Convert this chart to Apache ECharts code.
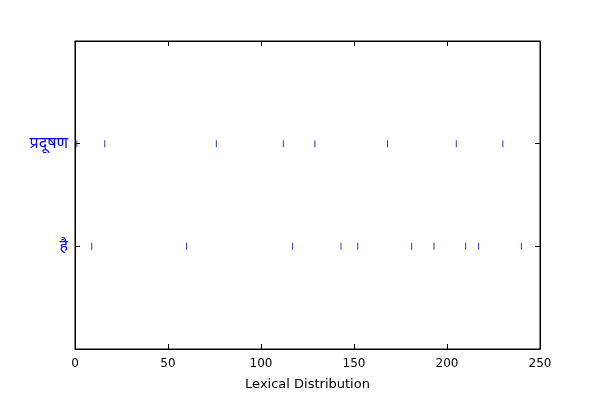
<!DOCTYPE html>
<html>
<head>
<meta charset="utf-8">
<script src="https://cdn.jsdelivr.net/npm/echarts@6/dist/echarts.min.js"></script>
<style>html,body{margin:0;padding:0;background:#fff}#c{width:600px;height:400px}</style>
</head>
<body>
<div id="c"></div>
<script>
// Words (y rows, bottom to top) and offsets of each occurrence
var words = ["है", "प्रदूषण"];
var offsetsHai = [9, 60, 117, 143, 152, 181, 193, 210, 217, 240];
var offsetsPradushan = [1, 16, 76, 112, 129, 168, 205, 230];
var xTicks = [0, 50, 100, 150, 200, 250];
var xLabel = "Lexical Distribution";

var pts = [];
offsetsHai.forEach(function (v) { pts.push([v, 0]); });
offsetsPradushan.forEach(function (v) { pts.push([v, 1]); });

var font = "'DejaVu Sans', sans-serif";
var chart = echarts.init(document.getElementById('c'), null, {renderer: 'canvas'});
chart.setOption({
  animation: false,
  backgroundColor: '#fff',
  grid: {left: 75, right: 60, top: 41, bottom: 51, show: true, borderColor: '#000', borderWidth: 1},
  xAxis: [{
    type: 'value', min: xTicks[0], max: xTicks[xTicks.length - 1], interval: 50,
    name: xLabel, nameLocation: 'middle', nameGap: 29,
    nameTextStyle: {color: '#000', fontSize: 13, fontFamily: font},
    axisLine: {show: true, onZero: false, lineStyle: {color: '#000'}},
    axisTick: {show: true, inside: true, length: 5, lineStyle: {color: '#000'}},
    axisLabel: {color: '#000', fontSize: 12, fontFamily: font, margin: 9},
    splitLine: {show: false}
  }, {
    type: 'value', position: 'top', min: 0, max: 250, interval: 50,
    axisLine: {show: true, onZero: false, lineStyle: {color: '#000'}},
    axisTick: {show: true, inside: true, length: 5, lineStyle: {color: '#000'}},
    axisLabel: {show: false}, splitLine: {show: false}
  }],
  yAxis: [{
    type: 'value', min: -1, max: 2, interval: 1,
    axisLine: {show: true, onZero: false, lineStyle: {color: '#000'}},
    axisTick: {show: true, inside: true, length: 5, lineStyle: {color: '#000'}},
    axisLabel: {color: '#0000ff', fontSize: 16, fontFamily: "'Noto Sans', 'DejaVu Sans', sans-serif", margin: 7,
      formatter: function (v) { return (v === 0 || v === 1) ? words[v] : ''; }},
    splitLine: {show: false}
  }, {
    type: 'value', position: 'right', min: -1, max: 2, interval: 1,
    axisLine: {show: true, onZero: false, lineStyle: {color: '#000'}},
    axisTick: {show: true, inside: true, length: 5, lineStyle: {color: '#000'}},
    axisLabel: {show: false}, splitLine: {show: false}
  }],
  series: [{
    type: 'scatter',
    data: pts,
    symbol: 'rect',
    symbolSize: [1, 7],
    itemStyle: {color: '#3333cc', opacity: 1},
    silent: true
  }]
});
</script>
</body>
</html>
